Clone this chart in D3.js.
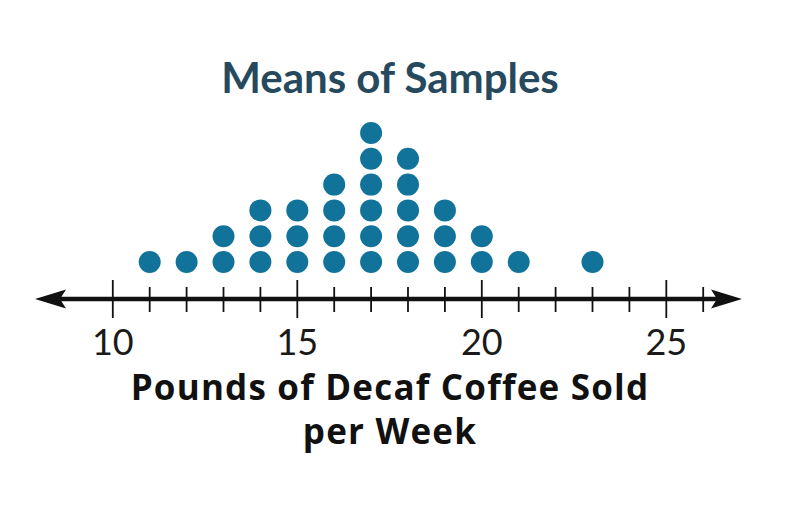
<!DOCTYPE html>
<html>
<head>
<meta charset="utf-8">
<script src="https://cdn.jsdelivr.net/npm/d3@7"></script>
<style>
	body { margin: 0; background: #fff; }
	svg { display: block; }
	.title { font-family: Lato, sans-serif; font-weight: 700; fill: #26495e; }
	.ticklbl { font-family: Lato, sans-serif; font-weight: 400; fill: #1a1a1a; }
	.axislbl { font-family: "Open Sans", sans-serif; font-weight: 700; fill: #111; letter-spacing: 1.2px; }
</style>
</head>
<body>
<svg id="chart"></svg>
<script>
// sample means (lbs) and how many dots stack on each
let values = [11, 12, 13, 14, 15, 16, 17, 18, 19, 20, 21, 23];
let counts = [1, 1, 2, 3, 3, 4, 6, 5, 3, 2, 1, 1];
let majorTicks = [10, 15, 20, 25];
let chartTitle = 'Means of Samples';
let axisTitle = ['Pounds of Decaf Coffee Sold', 'per Week'];

let w = 800, h = 506;
let axisY = 299;
let dotR = 11;
let rowGap = 25.8;

let chart = d3.select('#chart')
	.attr('width', w)
	.attr('height', h);

let xScale = d3.scaleLinear()
	.domain([10, 25])
	.range([112.8, 666.3]);

// stack index -> y position
let yScale = d3.scaleLinear()
	.domain([0, 1])
	.range([262, 262 - rowGap]);

// flatten counts into one dot per observation
let dots = [];
values.forEach((v, i) => {
	for (let k = 0; k < counts[i]; k++) {
		dots.push({ value: v, level: k });
	}
});

// title
chart.append('text')
	.attr('class', 'title')
	.attr('x', 390)
	.attr('y', 93)
	.attr('text-anchor', 'middle')
	.style('font-size', '42px')
	.text(chartTitle);

// number line
let lineLeft = 35, lineRight = 742;
chart.append('line')
	.attr('x1', lineLeft + 20)
	.attr('x2', lineRight - 20)
	.attr('y1', axisY)
	.attr('y2', axisY)
	.attr('stroke', '#111')
	.attr('stroke-width', 4.5);

// arrow heads
function arrowPath(tip, dir) {
	let len = 31, half = 9.5, notch = 25;
	return `M${tip},${axisY} L${tip - dir * len},${axisY - half} L${tip - dir * notch},${axisY} L${tip - dir * len},${axisY + half} Z`;
}
chart.append('path').attr('d', arrowPath(lineLeft, -1)).attr('fill', '#111');
chart.append('path').attr('d', arrowPath(lineRight, 1)).attr('fill', '#111');

// tick marks, every whole number from 10 to 26
let allTicks = d3.range(10, 27);
chart.selectAll('.tick')
	.data(allTicks)
	.enter()
	.append('line')
	.attr('class', 'tick')
	.attr('x1', (d) => xScale(d))
	.attr('x2', (d) => xScale(d))
	.attr('y1', (d) => majorTicks.includes(d) ? axisY - 19 : axisY - 12)
	.attr('y2', (d) => majorTicks.includes(d) ? axisY + 19 : axisY + 13)
	.attr('stroke', '#111')
	.attr('stroke-width', 1.8);

chart.selectAll('.ticklbl')
	.data(majorTicks)
	.enter()
	.append('text')
	.attr('class', 'ticklbl')
	.attr('x', (d) => xScale(d))
	.attr('y', 355)
	.attr('text-anchor', 'middle')
	.style('font-size', '36px')
	.text((d) => d);

// dots
chart.selectAll('circle')
	.data(dots)
	.enter()
	.append('circle')
	.attr('cx', (d) => xScale(d.value))
	.attr('cy', (d) => yScale(d.level))
	.attr('r', dotR)
	.attr('fill', '#12739a');

// x axis title, two lines
chart.selectAll('.axislbl')
	.data(axisTitle)
	.enter()
	.append('text')
	.attr('class', 'axislbl')
	.attr('x', 390)
	.attr('y', (d, i) => 400 + i * 44)
	.attr('text-anchor', 'middle')
	.style('font-size', '35px')
	.text((d) => d);
</script>
</body>
</html>
